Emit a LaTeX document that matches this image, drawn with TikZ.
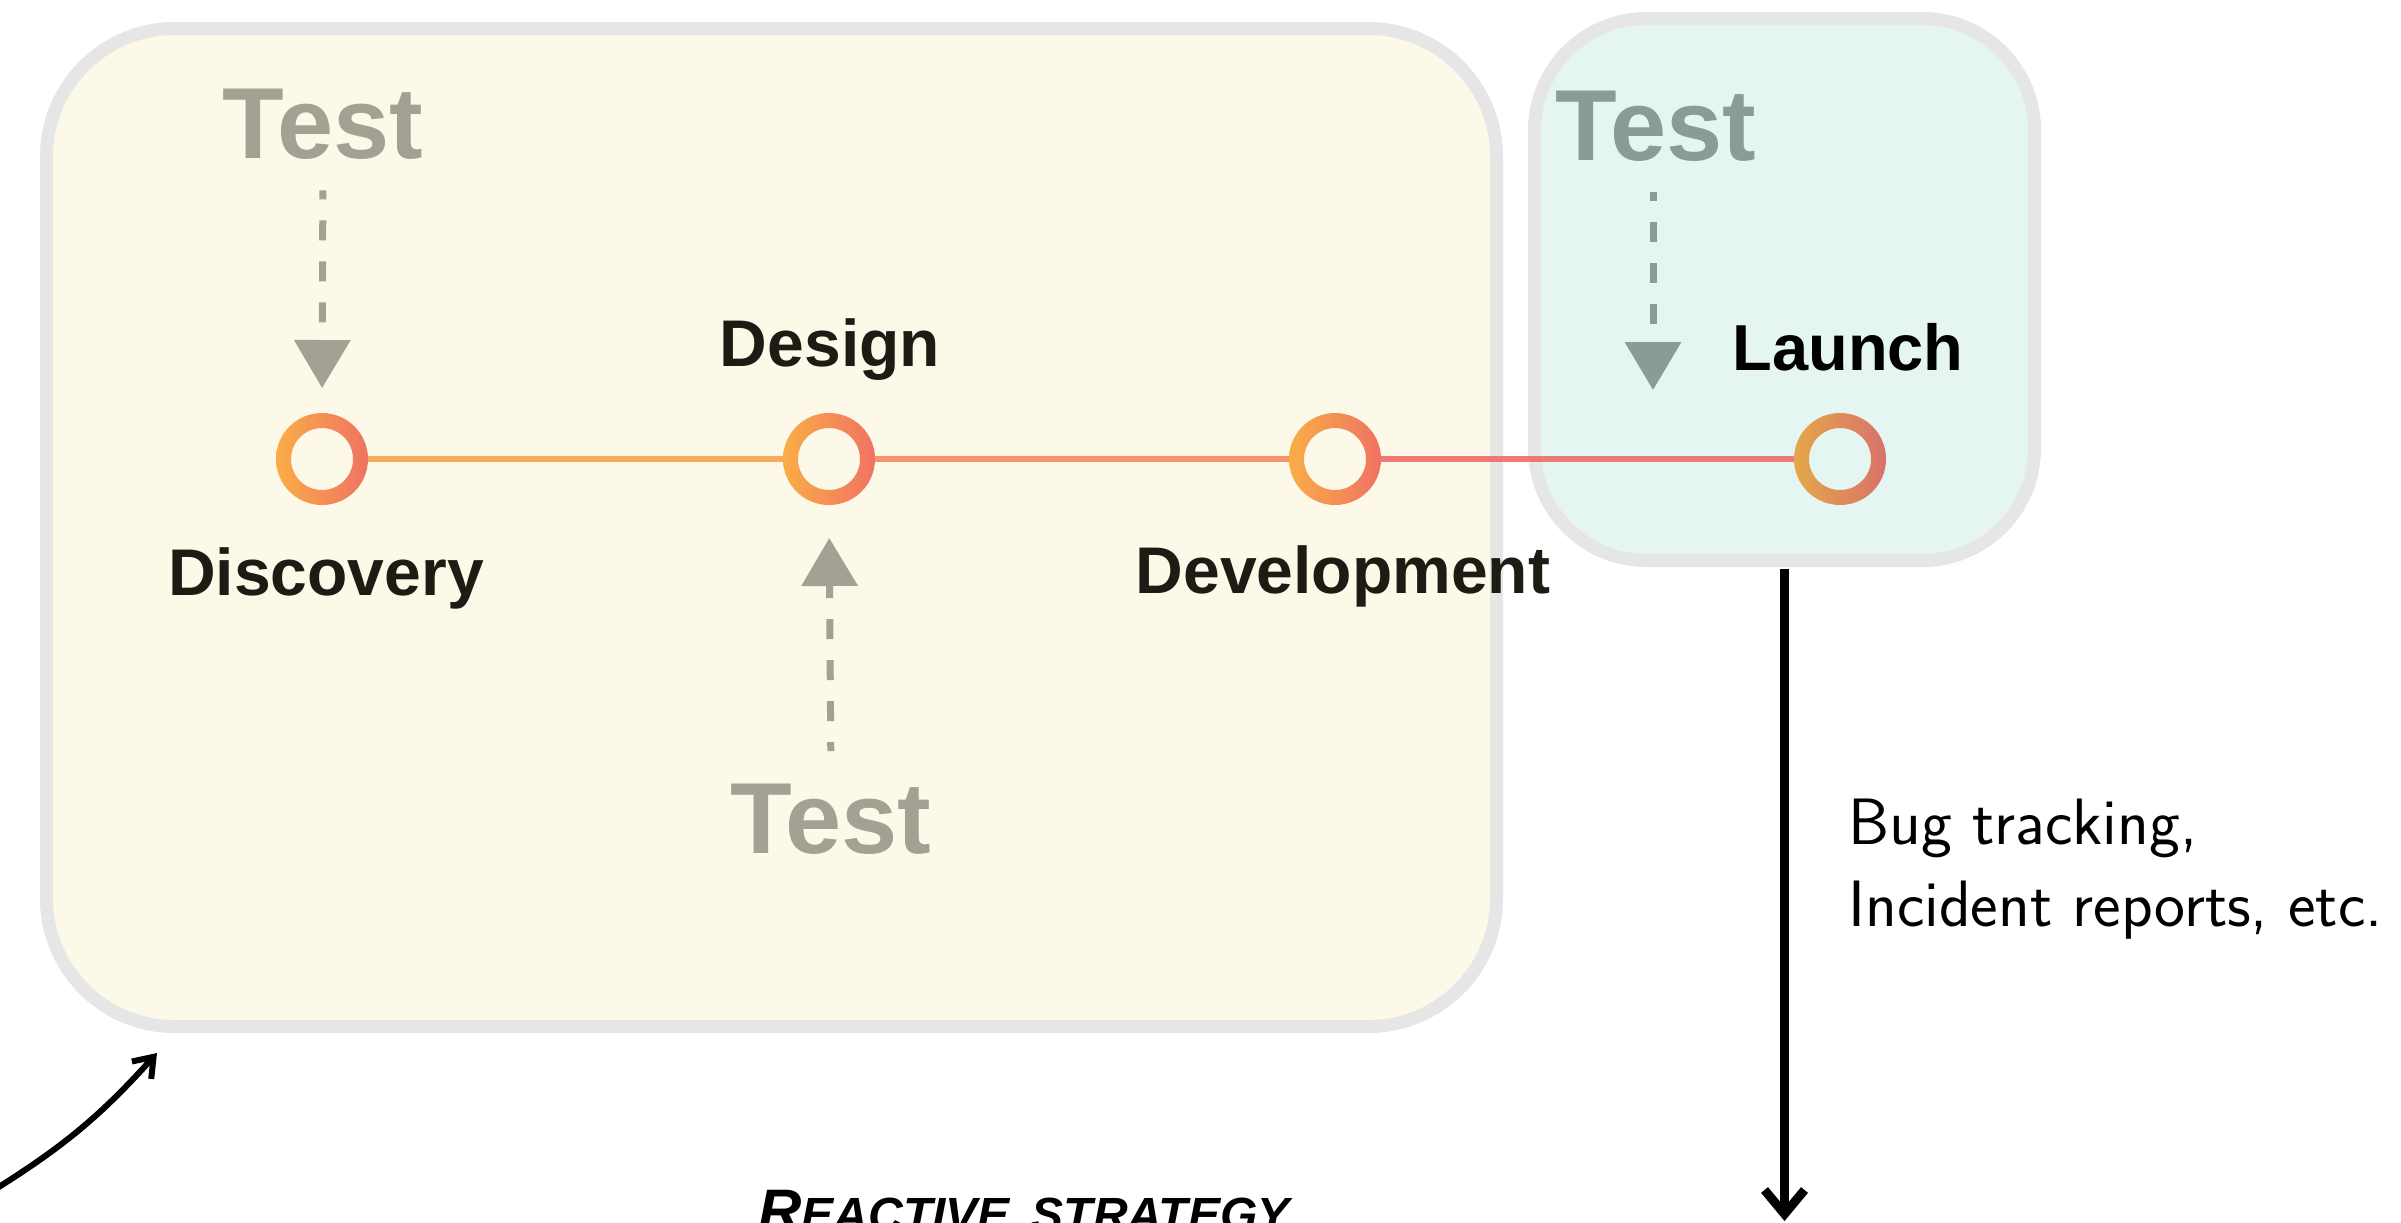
\documentclass[tikz,border=0pt]{standalone}
\usepackage{fontspec}
\usetikzlibrary{arrows.meta,calc}
\newfontfamily\labelfont{Liberation Sans}

\definecolor{creamfill}{HTML}{FDF9E9}
\definecolor{mintfill}{HTML}{E5F6F2}
\definecolor{frame}{HTML}{E6E6E6}
\definecolor{testgray}{HTML}{A3A193}
\definecolor{testteal}{HTML}{8B9B96}
\definecolor{ink}{HTML}{1C1B14}
\definecolor{ringA}{HTML}{F9AD47}
\definecolor{ringB}{HTML}{F07263}
\definecolor{ringC}{HTML}{E3A848}
\definecolor{ringD}{HTML}{D9716C}
\definecolor{segA}{HTML}{F8A245}
\definecolor{segB}{HTML}{F5875A}
\definecolor{segC}{HTML}{EC6A64}

\begin{document}
\begin{tikzpicture}[x=0.5pt,y=-0.5pt,
  phasebox/.style={draw=frame, line width=6.5pt, inner sep=0pt, outer sep=0pt},
  stage/.style={circle, minimum size=46pt, inner sep=0pt, outer sep=0pt},
  seg/.style={line width=3pt, opacity=0.88},
  lbl/.style={font=\labelfont\bfseries\fontsize{33}{38}\selectfont, text=ink, inner sep=0pt, anchor=base},
  testlbl/.style={font=\labelfont\bfseries\fontsize{50.5}{58}\selectfont, inner sep=0pt, anchor=base},
  probe/.style={line width=3.5pt, dash pattern=on 10pt off 10.5pt, dash phase=5.5pt,
    -{Triangle[width=27.5pt,length=24pt]}}
]
\useasboundingbox (0,0) rectangle (2401,1222);
\clip (0,0) rectangle (2401,1222);
\fill[white] (0,0) rectangle (2401,1222);

% phase boxes
\node[phasebox, fill=creamfill, minimum width=725pt, minimum height=499pt,
  rounded corners=64pt] (build) at (771.5,527.5) {};
\node[phasebox, fill=mintfill, minimum width=250pt, minimum height=271pt,
  rounded corners=56pt] (mint) at (1784.5,289.5) {};

% timeline stages
\node[stage] (disc)   at (322,459)  {};
\node[stage] (design) at (829,459)  {};
\node[stage] (devel)  at (1335,459) {};
\node[stage] (launch) at (1840,459) {};

\draw[seg, segA] (disc) -- (design);
\draw[seg, segB] (design) -- (devel);
\draw[seg, segC] (devel) -- (launch);

\foreach \n/\a/\b in {disc/ringA/ringB, design/ringA/ringB, devel/ringA/ringB, launch/ringC/ringD}
  \shade[left color=\a, right color=\b, even odd rule]
    (\n.center) circle[radius=23pt] (\n.center) circle[radius=15.5pt];

% stage labels
\node[lbl] (discl)   at (326,595)  {Discovery};
\node[lbl] (designl) at (830,366)  {Design};
\node[lbl] (devell)  at (1343,593) {Development};
\node[lbl, text=black, font=\labelfont\bfseries\fontsize{32.5}{38}\selectfont] (launchl) at (1848,370) {Launch};

% test probes
\node[testlbl, text=testgray] (t1) at (323,158)  {Test};
\node[testlbl, text=testgray] (t2) at (831,853)  {Test};
\node[testlbl, text=testteal] (t3) at (1656,160) {Test};

\draw[probe, testgray, shorten <=15.5pt, shorten >=12.5pt] (t1.south) -- (disc.north);
\draw[probe, testgray, shorten <=16pt, shorten >=16.5pt] (t2.north) -- (design.south);
\coordinate (a3tip) at (1653,390);
\draw[probe, testteal, shorten <=15.5pt] (t3.south -| a3tip) -- (a3tip);

% feedback after launch
\coordinate (feedback) at (1784.5,1221);
\draw[line width=4.5pt, -{Straight Barb[length=12pt,width=20pt]}, shorten <=4pt]
  (mint.south) -- (feedback);
\node[anchor=north west, inner sep=0pt, align=left,
  font=\sffamily\fontsize{32.8}{40.75}\selectfont] (notes) at (1848,799)
  {Bug tracking,\\Incident reports, etc.};

% pointer to the pre-launch box
\coordinate (cstart) at (-6,1190);
\coordinate (ctip) at (157,1053);
\draw[line width=3pt, -{Straight Barb[length=9pt,width=13pt]}]
  (cstart) to[bend right=8] (ctip);

\node[anchor=base west, inner sep=0pt,
  font=\labelfont\bfseries\itshape\fontsize{24}{28}\selectfont] (strategy) at (758,1231)
  {{\fontsize{30}{30}\selectfont R}EACTIVE\hspace{11pt}STRATEGY};
\end{tikzpicture}
\end{document}
